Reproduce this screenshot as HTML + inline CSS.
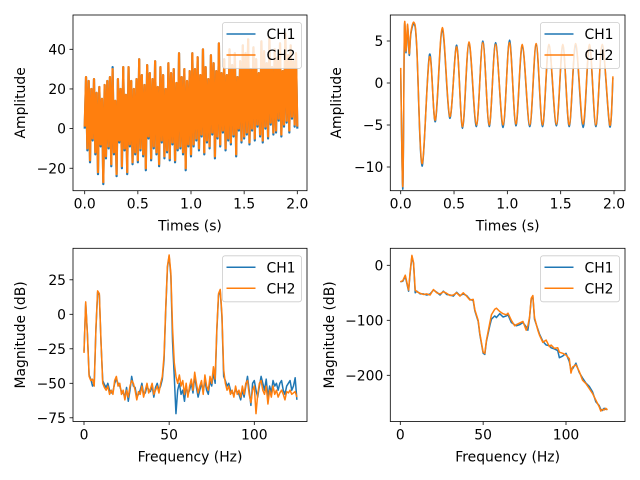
<!DOCTYPE html>
<html><head><meta charset="utf-8"><style>
html,body{margin:0;padding:0;background:#fff;}
svg{display:block;font-family:"DejaVu Sans","Liberation Sans",sans-serif;}
</style></head><body>
<svg id="fig" width="640" height="480" viewBox="0 0 640 480" xmlns="http://www.w3.org/2000/svg"></svg>
<script>
// ---------- Data ----------
const tlTickLabelsX = ["0.0","0.5","1.0","1.5","2.0"];
const tlCh2 = [1,26,-10,24,-16,20,-5,25,-12,18,-22,21,-8,15,-27,22,-14,24,-9,26,-18,30,-12,14,-23,25,-6,20,-19,31,-10,17,-22,31,-8,24,-17,20,-12,25,-16,
35,-10,27,-13,22,-20,32,-4,28,-15,25,-9,34,-12,21,-18,31,-6,27,-14,20,-11,33,-15,28,-7,30,-16,23,-10,38,-9,26,-12,30,-20,24,-8,29,-13,
38,-8,30,-5,36,-10,27,-3,40,-12,31,-6,25,-9,37,-2,33,-14,29,-4,43,-8,28,-1,35,-10,27,-5,40,-7,32,-3,38,-13,26,0,34,-6,42,-4,
38,-2,45,-7,30,0,41,-5,35,2,28,-3,44,-6,39,1,33,-4,46,3,31,-2,40,-1,36,5,43,-3,29,2,48,4,37,-1,42,6,34,2,38,1];
const tlCh1 = [0,26,-11,24,-17,20,-6,25,-13,18,-23,21,-9,15,-28,22,-15,24,-10,26,-19,31,-13,14,-24,25,-7,20,-20,31,-11,17,-23,31,-9,24,-18,20,-13,25,-17,
35,-11,27,-14,22,-21,32,-5,28,-16,25,-10,34,-13,21,-19,31,-7,27,-15,20,-12,33,-16,28,-8,30,-17,23,-11,38,-10,26,-13,30,-21,24,-9,29,-14,
38,-9,30,-6,36,-11,27,-4,40,-13,31,-7,25,-10,37,-3,33,-15,29,-5,43,-9,28,-2,35,-11,27,-6,40,-8,32,-4,38,-14,26,-1,34,-7,42,-5,
38,-3,45,-8,30,-1,41,-6,35,1,28,-4,44,-7,39,0,33,-5,46,2,31,-3,40,-2,36,4,43,-4,29,1,48,3,37,-2,42,5,34,1,38,0];

const trTimes = [0,0.02,0.035,0.05,0.065,0.08,0.095,0.125,0.15,0.2,0.27,0.325,0.39,0.46,0.525,0.58,0.64,0.71,0.77,0.83,0.89,0.96,1.02,1.08,1.14,1.21,1.27,1.33,1.39,1.46,1.52,1.58,1.64,1.71,1.77,1.83,1.89,1.96,1.99];
const trCh2 = [1.8,-12.3,6.6,3.8,7,3.5,6,7.2,4.5,-9.6,3.1,-4.4,6.6,-4.0,4.3,-5.2,4.9,-5.0,4.8,-5.0,4.6,-5.0,4.8,-4.9,4.6,-5.0,4.7,-5.0,4.6,-4.9,4.6,-5.0,4.7,-4.9,4.6,-5.0,4.6,-5.0,0.8];
const trCh1 = [1.6,-12.6,6.4,3.6,6.8,3.3,5.8,7.0,4.3,-9.9,3.4,-4.6,6.3,-4.2,4.5,-5.4,4.7,-5.2,5.0,-5.2,4.8,-5.3,5.1,-5.1,4.4,-5.2,4.5,-5.2,4.4,-5.1,4.4,-5.2,4.5,-5.3,4.4,-5.2,4.4,-5.2,0.6];
const trTickLabelsY = ["\u221210","\u22125","0","5"];

const blCh2 = [-28,9,-15,-45,-48,-47,-52,-10,17,15,-20,-50,-53,-55,-52,-58,-55,-58,-48,-45,-52,-50,-58,-55,-62,-55,-60,-52,-48,-50,-55,-62,-56,-58,-52,-60,-55,-50,-57,-54,-50,-58,-55,-52,-57,-50,-45,-30,5,35,43,30,-10,-35,-45,-50,-44,-52,-48,-58,-50,-60,-52,-47,-55,-42,-50,-57,-52,-48,-58,-44,-52,-55,-45,-50,-38,-47,-10,15,18,0,-40,-50,-55,-52,-58,-55,-60,-52,-58,-55,-60,-52,-58,-50,-48,-58,-64,-55,-52,-72,-58,-50,-48,-55,-58,-52,-65,-55,-60,-52,-58,-55,-60,-57,-55,-58,-62,-56,-57,-55,-58,-57,-56,-60];
const blCh1 = [-27,8,-14,-44,-47,-52,-50,-11,16,14,-21,-48,-51,-53,-50,-55,-57,-56,-50,-47,-50,-52,-56,-57,-60,-53,-63,-55,-45,-52,-53,-60,-58,-55,-50,-58,-57,-52,-55,-56,-52,-60,-53,-50,-55,-52,-47,-33,3,34,42,28,-20,-45,-72,-55,-50,-58,-55,-63,-52,-58,-55,-50,-57,-45,-53,-60,-55,-50,-56,-48,-55,-58,-48,-52,-42,-50,-12,14,17,-2,-45,-48,-52,-50,-55,-57,-58,-55,-56,-58,-62,-55,-60,-52,-45,-55,-66,-50,-48,-55,-60,-52,-45,-50,-55,-47,-60,-52,-57,-48,-52,-50,-55,-50,-48,-55,-58,-52,-50,-48,-55,-52,-46,-62];
const blTickLabelsY = ["\u221275","\u221250","\u221225","0","25"];

const brFreqs = [0,1.5,3,5,6,7,8,9,10,12,14,16,18,20,22,24,26,28,30,32,34,36,38,40,42,44,45,47,48,50,51,52,54,55,57,58,60,62,64,65,67,69,70,72,74,76,77,78,79,80,81,83,84,86,88,90,91,93,95,96,98,100,102,103,104,106,108,110,112,114,116,118,120,121,122,123,124,125];
const brCh2 = [-30,-28,-18,-45,-10,18,5,-45,-48,-51,-53,-52,-54,-44,-50,-52,-48,-51,-55,-54,-50,-56,-50,-56,-63,-62,-81,-100,-124,-158,-160,-136,-105,-90,-80,-78,-84,-88,-90,-87,-100,-110,-108,-105,-102,-118,-110,-94,-60,-55,-95,-118,-127,-140,-136,-148,-145,-151,-150,-158,-160,-163,-170,-196,-185,-181,-193,-209,-215,-224,-233,-245,-257,-265,-262,-263,-260,-263];
const brCh1 = [-30,-29,-20,-47,-12,16,3,-50,-47,-52,-52,-54,-52,-45,-49,-54,-47,-53,-54,-56,-49,-55,-52,-55,-62,-64,-83,-102,-126,-160,-162,-138,-110,-98,-92,-95,-88,-94,-92,-90,-104,-108,-110,-108,-104,-112,-118,-96,-62,-57,-98,-116,-125,-138,-145,-146,-150,-152,-155,-168,-165,-160,-175,-190,-188,-178,-195,-205,-214,-220,-230,-248,-255,-262,-264,-260,-262,-262];
const brTickLabelsY = ["\u2212200","\u2212100","0"];

// ---------- Helpers ----------
const NS = "http://www.w3.org/2000/svg";
const fig = document.getElementById("fig");
function mk(tag, attrs, parent){
  const e = document.createElementNS(NS, tag);
  for (const k in attrs) e.setAttribute(k, attrs[k]);
  (parent||fig).appendChild(e);
  return e;
}
function linScale(d0, p0, d1, p1){ return v => p0 + (v - d0) * (p1 - p0) / (d1 - d0); }

function drawPanel(cfg){
  const g = mk("g", {});
  
  
  const sx = cfg.sx, sy = cfg.sy;
  const cp = mk("clipPath", {id: cfg.name + "-clip"}, g);
  mk("rect", {x: cfg.L, y: cfg.T, width: cfg.R - cfg.L, height: cfg.B - cfg.T}, cp);
  const series = [{d: cfg.ch1, c: "#1f77b4", n: "ch1"}, {d: cfg.ch2, c: "#ff7f0e", n: "ch2"}];
  series.forEach(s => {
    let pts = s.d.map((v, i) => [sx(cfg.xs(i)), sy(v)]);
    let dstr;
    if (cfg.smooth){
      dstr = "M" + pts[0][0].toFixed(2) + "," + pts[0][1].toFixed(2);
      for (let i = 0; i < pts.length - 1; i++){
        const p0 = pts[Math.max(0, i-1)], p1 = pts[i], p2 = pts[i+1], p3 = pts[Math.min(pts.length-1, i+2)];
        const c1 = [p1[0] + (p2[0]-p0[0])/6, p1[1] + (p2[1]-p0[1])/6];
        const c2 = [p2[0] - (p3[0]-p1[0])/6, p2[1] - (p3[1]-p1[1])/6];
        dstr += "C" + c1[0].toFixed(2)+","+c1[1].toFixed(2)+" "+c2[0].toFixed(2)+","+c2[1].toFixed(2)+" "+p2[0].toFixed(2)+","+p2[1].toFixed(2);
      }
    } else {
      dstr = "M" + pts.map(p => p[0].toFixed(2) + "," + p[1].toFixed(2)).join("L");
    }
    const path = mk("path", {d: dstr, fill: "none", stroke: s.c, "stroke-width": cfg.lw || 1.5, "stroke-linejoin": "round", "clip-path": "url(#" + cfg.name + "-clip)"}, g);
    
    
  });
  const fr = mk("rect", {x: cfg.L, y: cfg.T, width: cfg.R - cfg.L, height: cfg.B - cfg.T, fill: "none", stroke: "#000", "stroke-width": 0.8}, g);
  
  
  cfg.xt.forEach((v, i) => {
    const x = sx(v);
    mk("line", {x1: x, x2: x, y1: cfg.B, y2: cfg.B + 3.5, stroke: "#000", "stroke-width": 0.8}, g);
    const t = mk("text", {x: x, y: cfg.B + 18, "text-anchor": "middle", "font-size": "13.9px", fill: "#000"}, g);
    t.textContent = cfg.xl[i];
    
    
  });
  cfg.yt.forEach((v, i) => {
    const y = sy(v);
    mk("line", {x1: cfg.L - 3.5, x2: cfg.L, y1: y, y2: y, stroke: "#000", "stroke-width": 0.8}, g);
    const t = mk("text", {x: cfg.L - 7, y: y + 5, "text-anchor": "end", "font-size": "13.9px", fill: "#000"}, g);
    t.textContent = cfg.yl[i];
    
    
  });
  const xt = mk("text", {x: (cfg.L + cfg.R)/2, y: cfg.B + 40, "text-anchor": "middle", "font-size": "13.9px", fill: "#000"}, g);
  xt.textContent = cfg.xlabel;
  
  
  const ym = (cfg.T + cfg.B)/2;
  const yt = mk("text", {x: cfg.ylx, y: ym, "text-anchor": "middle", "font-size": "13.9px", fill: "#000", transform: "rotate(-90 " + cfg.ylx + " " + ym + ")"}, g);
  yt.textContent = cfg.ylabel;
  
  
  const lg = mk("g", {}, g);
  
  
  const lx = cfg.R - 84.5, ly = cfg.T + 7.5;
  mk("rect", {x: lx, y: ly, width: 79, height: 46, rx: 2.5, fill: "#fff", "fill-opacity": 0.8, stroke: "#ccc", "stroke-width": 0.8}, lg);
  [["CH1","#1f77b4"],["CH2","#ff7f0e"]].forEach((e, i) => {
    const yy = ly + 11.5 + i * 21;
    const en = mk("g", {}, lg);
    
    
    mk("line", {x1: lx + 4, x2: lx + 33, y1: yy, y2: yy, stroke: e[1], "stroke-width": 1.5}, en);
    const t = mk("text", {x: lx + 44, y: yy + 5, "font-size": "13.9px", fill: "#000"}, en);
    t.textContent = e[0];
  });
}

const tlDt = 2 / (tlCh2.length - 1);
drawPanel({name: "time-plot-raw", L: 73, R: 307, T: 15, B: 190.7, lw: 2.2,
  sx: linScale(0, 84.7, 2, 297.3), sy: linScale(0, 128.6, 40, 49.3),
  xs: i => i * tlDt, ch1: tlCh1, ch2: tlCh2,
  xt: [0,0.5,1,1.5,2], xl: tlTickLabelsX, yt: [-20,0,20,40], yl: ["\u221220","0","20","40"],
  xlabel: "Times (s)", ylabel: "Amplitude", ylx: 25});
drawPanel({name: "time-plot-filtered", L: 390.3, R: 625, T: 15, B: 190.7, smooth: true,
  sx: linScale(0, 400.7, 2, 614), sy: linScale(0, 83, 5, 41),
  xs: i => trTimes[i], ch1: trCh1, ch2: trCh2,
  xt: [0,0.5,1,1.5,2], xl: tlTickLabelsX, yt: [-10,-5,0,5], yl: trTickLabelsY,
  xlabel: "Times (s)", ylabel: "Amplitude", ylx: 341});
drawPanel({name: "spectrum-raw", L: 73, R: 307, T: 248.3, B: 421.5,
  sx: linScale(0, 84, 100, 254.3), sy: linScale(0, 314.3, -25, 348.8),
  xs: i => i, ch1: blCh1, ch2: blCh2,
  xt: [0,50,100], xl: ["0","50","100"], yt: [-75,-50,-25,0,25], yl: blTickLabelsY,
  xlabel: "Frequency (Hz)", ylabel: "Magnitude (dB)", ylx: 25});
drawPanel({name: "spectrum-filtered", L: 390.3, R: 625, T: 248.3, B: 421.5,
  sx: linScale(0, 400.3, 100, 566), sy: linScale(0, 265.3, -200, 375.3),
  xs: i => brFreqs[i], ch1: brCh1, ch2: brCh2,
  xt: [0,50,100], xl: ["0","50","100"], yt: [-200,-100,0], yl: brTickLabelsY,
  xlabel: "Frequency (Hz)", ylabel: "Magnitude (dB)", ylx: 334});
</script>
</body></html>
